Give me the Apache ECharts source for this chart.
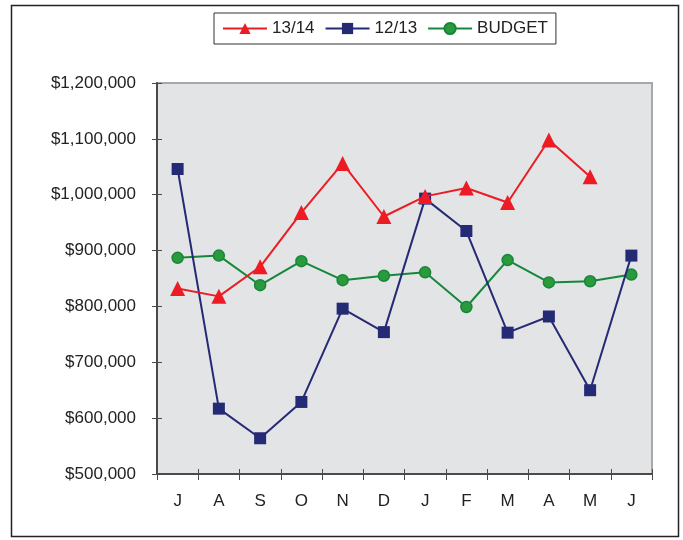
<!DOCTYPE html>
<html>
<head>
<meta charset="utf-8">
<script src="https://cdn.jsdelivr.net/npm/echarts@6/dist/echarts.min.js"></script>
<style>
  html, body { margin: 0; padding: 0; background: #fff; }
  #chart { width: 683px; height: 540px; }
</style>
</head>
<body>
<div id="chart"></div>
<script>
// month labels, July through June
const months = ['J', 'A', 'S', 'O', 'N', 'D', 'J', 'F', 'M', 'A', 'M', 'J'];

// values
const season1314 = [832000, 818000, 871000, 968000, 1056000, 961000, 997000, 1012000, 986000, 1098000, 1032000, null];
const season1213 = [1046000, 617000, 564000, 629000, 796000, 754000, 993000, 935000, 753000, 782000, 650000, 891000];
const budget = [887000, 891000, 838000, 881000, 847000, 855000, 861000, 799000, 883000, 843000, 845000, 857000];

const RED = '#ed1c24';
const NAVY = '#252a75';
const GREEN = '#16873a';
const GREEN_FILL = '#2b9a3c';
const AXIS = '#4a4a4a';
const FONT = 'Liberation Sans, Arial, sans-serif';

// plot box (px)
const GRID_LEFT = 157, GRID_RIGHT = 31, GRID_TOP = 83, GRID_BOTTOM = 66;
const GRID_W = 683 - GRID_LEFT - GRID_RIGHT;
const GRID_H = 540 - GRID_TOP - GRID_BOTTOM;

function money(v) {
  return '$' + v.toString().replace(/\B(?=(\d{3})+(?!\d))/g, ',');
}

const chart = echarts.init(document.getElementById('chart'), null, { renderer: 'canvas' });

chart.setOption({
  animation: false,
  textStyle: { fontFamily: FONT },
  graphic: [{
    type: 'rect',
    shape: { x: 11.5, y: 5.5, width: 667, height: 531 },
    style: { fill: 'none', stroke: '#222', lineWidth: 1.5 },
    z: -1
  }],
  legend: {
    top: 13,
    left: 214,
    padding: [7, 8],
    borderColor: '#333',
    borderWidth: 1,
    itemWidth: 44,
    itemHeight: 14,
    itemGap: 10,
    textStyle: { fontSize: 17, color: '#222', fontFamily: FONT },
    data: ['13/14', '12/13', 'BUDGET']
  },
  grid: {
    left: GRID_LEFT, right: GRID_RIGHT, top: GRID_TOP, bottom: GRID_BOTTOM,
    show: true,
    backgroundColor: '#e3e4e6',
    borderColor: '#a8a8a8',
    borderWidth: 2
  },
  xAxis: [{
    type: 'category',
    data: months,
    boundaryGap: true,
    axisLine: { lineStyle: { color: AXIS, width: 2 } },
    axisTick: { show: true, length: 6, lineStyle: { color: AXIS, width: 1 } },
    axisLabel: { color: '#222', fontSize: 17, margin: 19 },
    splitLine: { show: false }
  }, {
    // second copy only for the tick halves that reach into the plot
    type: 'category',
    data: months,
    position: 'top',
    offset: -GRID_H,
    boundaryGap: true,
    axisLine: { show: false },
    axisTick: { show: true, length: 5, lineStyle: { color: AXIS, width: 1 } },
    axisLabel: { show: false },
    splitLine: { show: false }
  }],
  yAxis: [{
    type: 'value',
    min: 500000,
    max: 1200000,
    interval: 100000,
    axisLine: { show: true, lineStyle: { color: AXIS, width: 2 } },
    axisTick: { show: true, length: 5, lineStyle: { color: AXIS, width: 1 } },
    axisLabel: { color: '#222', fontSize: 17, margin: 21, formatter: money },
    splitLine: { show: false }
  }, {
    type: 'value',
    min: 500000,
    max: 1200000,
    interval: 100000,
    position: 'right',
    offset: -GRID_W,
    axisLine: { show: false },
    axisTick: { show: true, length: 5, lineStyle: { color: AXIS, width: 1 } },
    axisLabel: { show: false },
    splitLine: { show: false }
  }],
  series: [{
    name: '13/14',
    type: 'line',
    data: season1314,
    symbol: 'triangle',
    symbolSize: 15,
    lineStyle: { color: RED, width: 2 },
    itemStyle: { color: RED },
    z: 4
  }, {
    name: '12/13',
    type: 'line',
    data: season1213,
    symbol: 'rect',
    symbolSize: 12,
    lineStyle: { color: NAVY, width: 2 },
    itemStyle: { color: NAVY },
    z: 3
  }, {
    name: 'BUDGET',
    type: 'line',
    data: budget,
    symbol: 'circle',
    symbolSize: 11,
    lineStyle: { color: GREEN, width: 2 },
    itemStyle: { color: GREEN_FILL, borderColor: GREEN, borderWidth: 1.5 },
    z: 2
  }]
});
</script>
</body>
</html>
